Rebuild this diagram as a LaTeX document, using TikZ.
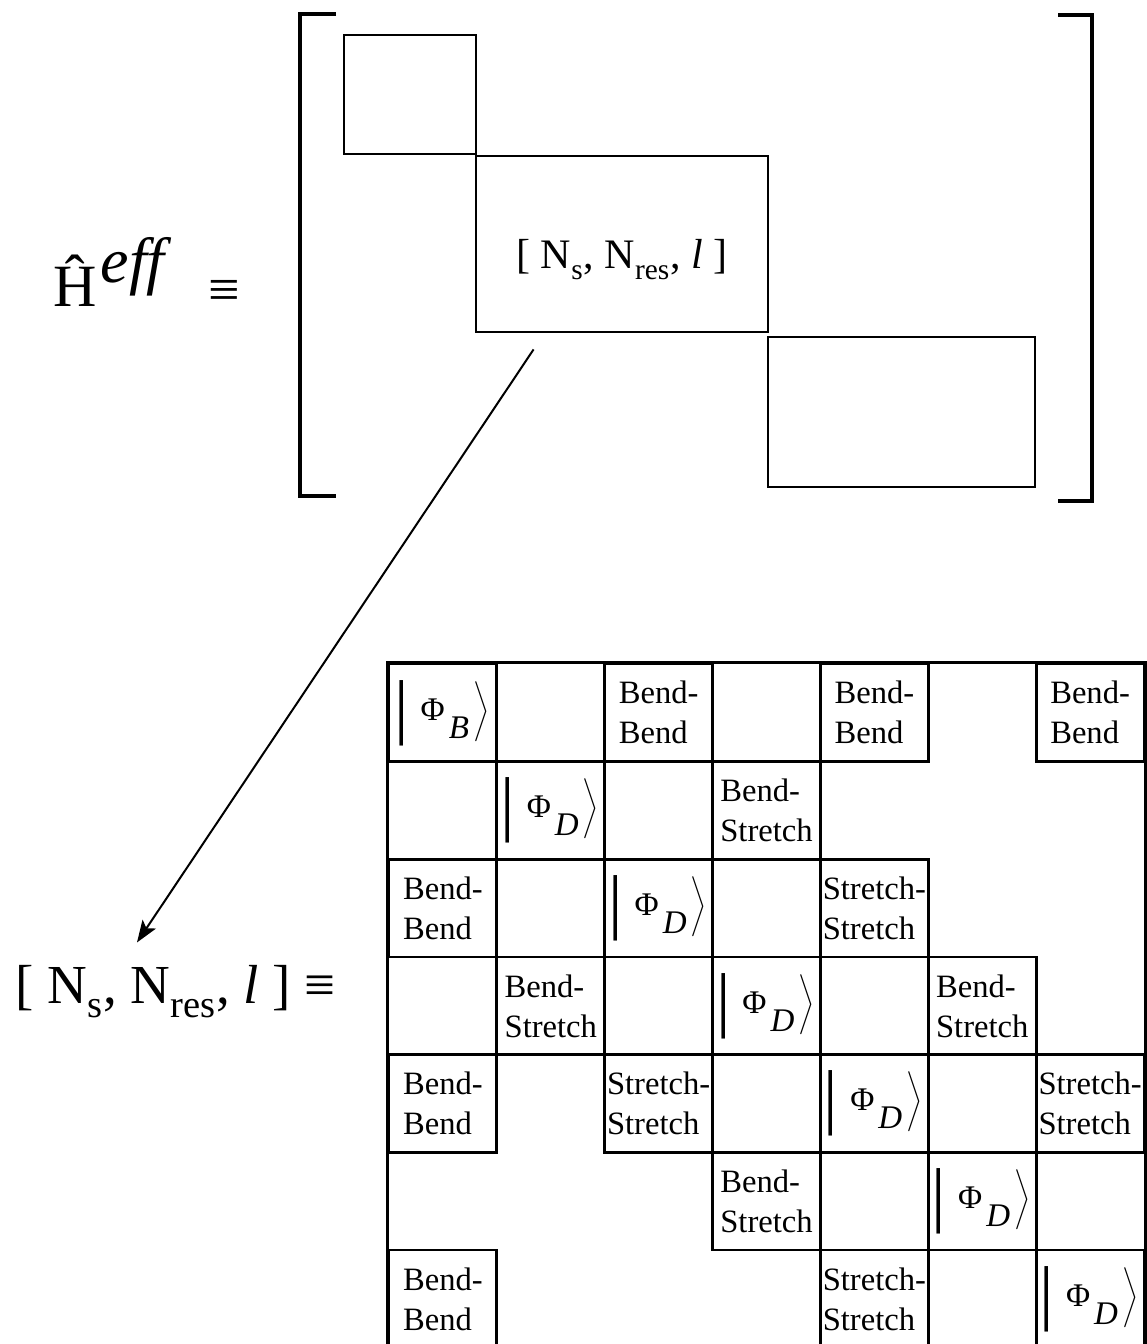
\documentclass[tikz,border=0pt]{standalone}
\usepackage{fontspec}
\setmainfont{Liberation Serif}
\usetikzlibrary{positioning,calc,arrows.meta}

\newcommand{\kstate}[1]{\raisebox{-5pt}{\fontsize{36}{36}\selectfont|}\hspace{6pt}{\fontsize{16.5}{18}\selectfont Φ\hspace{2pt}\raisebox{-9pt}{\itshape #1}}\hspace{2pt}$\left\rangle\vrule height 16pt depth 11pt width 0pt\right.$}
\newcommand{\lsub}[1]{\raisebox{-0.12em}{\textsubscript{#1}}}
\newcommand{\cBB}{Bend-\\Bend}
\newcommand{\cBS}{Bend-\\Stretch}
\newcommand{\cSS}{Stretch-\\Stretch}

\tikzset{
  blk/.style={draw, line width=1.4pt, inner sep=0pt},
  cell/.style={draw, line width=1.4pt, inner sep=0pt, minimum width=53.93pt, minimum height=48.83pt},
  celltxt/.style={inner sep=0pt, align=left, font=\fontsize{16.3}{20}\selectfont},
  brk/.style={line width=1.6pt},
  arr/.style={line width=1pt, -{Stealth[length=11pt,width=8pt,inset=2.5pt]}}
}

\begin{document}
\begin{tikzpicture}[x=0.5pt,y=-0.5pt]
  \useasboundingbox (0,0) rectangle (1146,1344);
  % effective hamiltonian, block diagonal
  \node[anchor=base west, inner sep=0pt, font=\fontsize{30}{34}\selectfont] (heff) at (53,306)
    {\^{H}\hspace{2pt}\raisebox{12pt}{\fontsize{32}{36}\selectfont\itshape eff}};
  \node[inner sep=0pt, font=\fontsize{28}{32}\selectfont] (eqtop) at (224,294) {≡};
  \draw[brk] (336,14) -- (300,14) -- (300,496) -- (336,496);
  \draw[brk] (1058,15) -- (1092,15) -- (1092,501) -- (1058,501);
  \node[blk, minimum width=66pt, minimum height=59.5pt] (blktop) at (410,94.5) {};
  \node[blk, minimum width=146pt, minimum height=88pt] (blkmid) at (622,244) {};
  \node[blk, minimum width=133.5pt, minimum height=75pt] (blkbot) at (901.5,412) {};
  \node[anchor=base, inner sep=0pt, font=\fontsize{21}{25}\selectfont] (blklbl) at (622,268)
    {[ N\lsub{s}, N\lsub{res}, \textit{l} ]};

  % one block written out
  \node[anchor=base west, inner sep=0pt, font=\fontsize{27.5}{32}\selectfont] (lbl) at (15,1003)
    {[ N\lsub{s}, N\lsub{res}, \textit{l} ] ≡};
  \draw[arr] ($(blkmid.south west)+(59,16)$) -- ($(lbl.north west)+(122,-22)$);

  \foreach \r/\c/\txt in {1/1/\kstate{B}, 1/3/\cBB, 1/5/\cBB, 1/7/\cBB,
      2/2/\kstate{D}, 2/4/\cBS,
      3/1/\cBB, 3/3/\kstate{D}, 3/5/\cSS,
      4/2/\cBS, 4/4/\kstate{D}, 4/6/\cBS,
      5/1/\cBB, 5/3/\cSS, 5/5/\kstate{D}, 5/7/\cSS,
      6/4/\cBS, 6/6/\kstate{D},
      7/1/\cBB, 7/5/\cSS, 7/7/\kstate{D}}
  {
    \node[cell] (m\r\c) at ({389+107.86*(\c-0.5)},{664+97.67*(\r-0.5)}) {};
    \node[celltxt] at (m\r\c) {\txt};
  }
  \draw[line width=1.4pt] (m71.south west) -- (m11.north west) -- (m17.north east) -- (m77.south east);
\end{tikzpicture}
\end{document}
